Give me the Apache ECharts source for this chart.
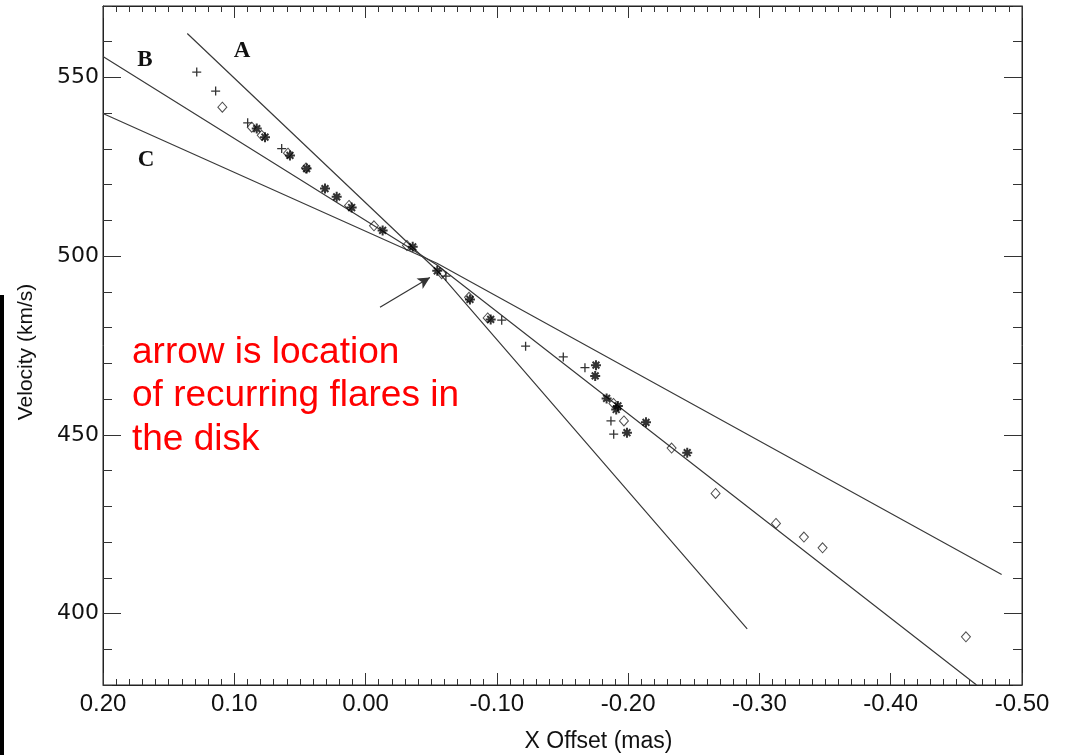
<!DOCTYPE html>
<html>
<head>
<meta charset="utf-8">
<script src="https://cdn.jsdelivr.net/npm/echarts@6/dist/echarts.min.js"></script>
<style>
html,body{margin:0;padding:0;background:#fff;}
#chart{width:1065px;height:755px;}
</style>
</head>
<body>
<div id="chart"></div>
<script>
// ---- data (x offset in mas, velocity in km/s) ----
var plusPoints = [
  [0.1286,551.5],[0.1142,546.2],[0.0898,537.3],[0.0639,530.1],
  [-0.0612,494.4],[-0.1037,482.1],[-0.1219,474.8],[-0.1506,471.8],
  [-0.1671,468.8],[-0.1869,453.9],[-0.1890,450.2]
];
var diamondPoints = [
  [0.1091,541.7],[0.0867,536.1],[0.0791,533.8],[0.0591,528.8],[0.0454,524.7],
  [0.0126,514.2],[-0.0064,508.5],[-0.0315,503.0],[-0.0580,495.1],[-0.0788,488.5],
  [-0.0930,482.7],[-0.1888,458.8],[-0.1968,453.9],[-0.2331,446.3],[-0.2666,433.6],
  [-0.3126,425.2],[-0.3339,421.4],[-0.3481,418.4],[-0.4573,393.5]
];
var starPoints = [
  [0.0829,535.7],[0.0766,533.3],[0.0576,528.2],[0.0449,524.5],[0.0309,518.9],
  [0.0220,516.6],[0.0106,513.6],[-0.0130,507.2],[-0.0359,502.6],[-0.0546,495.9],
  [-0.0795,487.9],[-0.0953,482.3],[-0.1755,469.5],[-0.1749,466.5],[-0.1836,460.2],
  [-0.1922,458.1],[-0.1909,457.1],[-0.2136,453.5],[-0.1991,450.6],[-0.2450,445.0]
];
var lineA = [[0.1358,562.3],[-0.0544,496.0],[-0.2907,395.7]];
var lineB = [[0.2000,555.9],[-0.0544,497.5],[-0.4654,380.0]];
var lineC = [[0.2000,539.9],[-0.0544,498.0],[-0.4845,410.9]];
var arrowFrom = [-0.011,485.7];
var arrowTo = [-0.049,494.0];
var xMin = -0.5, xMax = 0.2, xStep = 0.1;
var yMin = 380, yMax = 570, yStep = 10;
var yMajor = [400,450,500,550];

var chart = echarts.init(document.getElementById('chart'), null, {renderer:'canvas'});

function xFmt(v){ if (Math.abs(v) < 1e-9) return '0.00'; return v.toFixed(2); }

var tickColor = '#333';
function xAxisDef(pos, showLabel){
  return {
    type:'value', position:pos, min:xMin, max:xMax, interval:xStep, inverse:true,
    axisLine:{show:true, onZero:false, lineStyle:{color:'#222', width:1}},
    axisTick:{show:true, inside:true, length:12, lineStyle:{color:tickColor, width:1}},
    minorTick:{show:true, splitNumber:10, length:6, lineStyle:{color:tickColor, width:1}},
    splitLine:{show:false}, minorSplitLine:{show:false},
    axisLabel:{show:showLabel, formatter:xFmt, fontSize:24, fontFamily:'Liberation Sans', color:'#111', margin:7},
    name: showLabel ? 'X Offset (mas)' : '',
    nameLocation:'middle', nameGap:45,
    nameTextStyle:{fontSize:23, fontFamily:'Liberation Sans', color:'#111', padding:[0,0,0,72]}
  };
}
function yMinorDef(pos, showLabel){
  return {
    type:'value', position:pos, min:yMin, max:yMax, interval:yStep,
    axisLine:{show:true, onZero:false, lineStyle:{color:'#222', width:1}},
    axisTick:{show:true, inside:true, length:9, lineStyle:{color:tickColor, width:1}},
    splitLine:{show:false},
    axisLabel:{show:showLabel, formatter:function(v){ return (v % 50 === 0) ? String(v) : ''; },
      fontSize:22, fontFamily:'DejaVu Sans', color:'#111', margin:4},
    name: showLabel ? 'Velocity (km/s)' : '',
    nameLocation:'middle', nameGap:66, nameRotate:90,
    nameTextStyle:{fontSize:21, fontFamily:'Liberation Sans', color:'#111', padding:[0,13,0,0]}
  };
}
function yMajorDef(pos){
  return {
    type:'value', position:pos, min:yMin, max:yMax, interval:yStep,
    axisLine:{show:false, onZero:false},
    axisTick:{show:true, inside:true, length:18, customValues:yMajor, lineStyle:{color:tickColor, width:1}},
    splitLine:{show:false},
    axisLabel:{show:false}
  };
}

var lineStyle = {color:'#3a3a3a', width:1.2};
var starPath = 'path://M0,5L10,5M5,0L5,10M1.6,1.6L8.4,8.4M8.4,1.6L1.6,8.4';
var plusPath = 'path://M0,5L10,5M5,0L5,10';

var option = {
  animation:false,
  backgroundColor:'#fff',
  grid:{left:103, right:43, top:6, bottom:70, containLabel:false, outerBoundsMode:'none',
        show:true, borderColor:'#222', borderWidth:1, backgroundColor:'transparent'},
  xAxis:[xAxisDef('bottom', true), xAxisDef('top', false)],
  yAxis:[yMinorDef('left', true), yMajorDef('left'), yMinorDef('right', false), yMajorDef('right')],
  series:[
    {type:'line', name:'A', data:lineA, showSymbol:false, lineStyle:lineStyle, silent:true, z:2,
     markLine:{silent:true, symbol:['none','arrow'], symbolSize:[9,12], label:{show:false},
       lineStyle:{color:'#333', width:1.2, type:'solid'},
       data:[[{coord:arrowFrom},{coord:arrowTo}]]}},
    {type:'line', name:'B', data:lineB, showSymbol:false, lineStyle:lineStyle, silent:true, z:2},
    {type:'line', name:'C', data:lineC, showSymbol:false, lineStyle:lineStyle, silent:true, z:2},
    {type:'scatter', name:'plus', data:plusPoints, symbol:plusPath, symbolSize:9,
     itemStyle:{color:'transparent', borderColor:'#000', borderWidth:1.3}, z:3},
    {type:'scatter', name:'diamond', data:diamondPoints, symbol:'diamond', symbolSize:[9,10],
     itemStyle:{color:'transparent', borderColor:'#222', borderWidth:1}, z:3},
    {type:'scatter', name:'star', data:starPoints, symbol:starPath, symbolSize:10,
     itemStyle:{color:'transparent', borderColor:'#000', borderWidth:2}, z:4}
  ],
  graphic:[
    {type:'rect', left:0, top:295, shape:{width:4, height:460}, style:{fill:'#000'}, z:10},
    {type:'text', x:242, y:51, style:{text:'A', font:'bold 23px "Liberation Serif"', fill:'#111', textAlign:'center', textVerticalAlign:'middle'}, z:10},
    {type:'text', x:145, y:60, style:{text:'B', font:'bold 23px "Liberation Serif"', fill:'#111', textAlign:'center', textVerticalAlign:'middle'}, z:10},
    {type:'text', x:146, y:160, style:{text:'C', font:'bold 23px "Liberation Serif"', fill:'#111', textAlign:'center', textVerticalAlign:'middle'}, z:10},
    {type:'text', x:132, y:331, style:{text:'arrow is location\nof recurring flares in\nthe disk', font:'37px "Liberation Sans"', lineHeight:43.5, fill:'#ff0000', textAlign:'left', textVerticalAlign:'top'}, z:10}
  ]
};
chart.setOption(option);
</script>
</body>
</html>
